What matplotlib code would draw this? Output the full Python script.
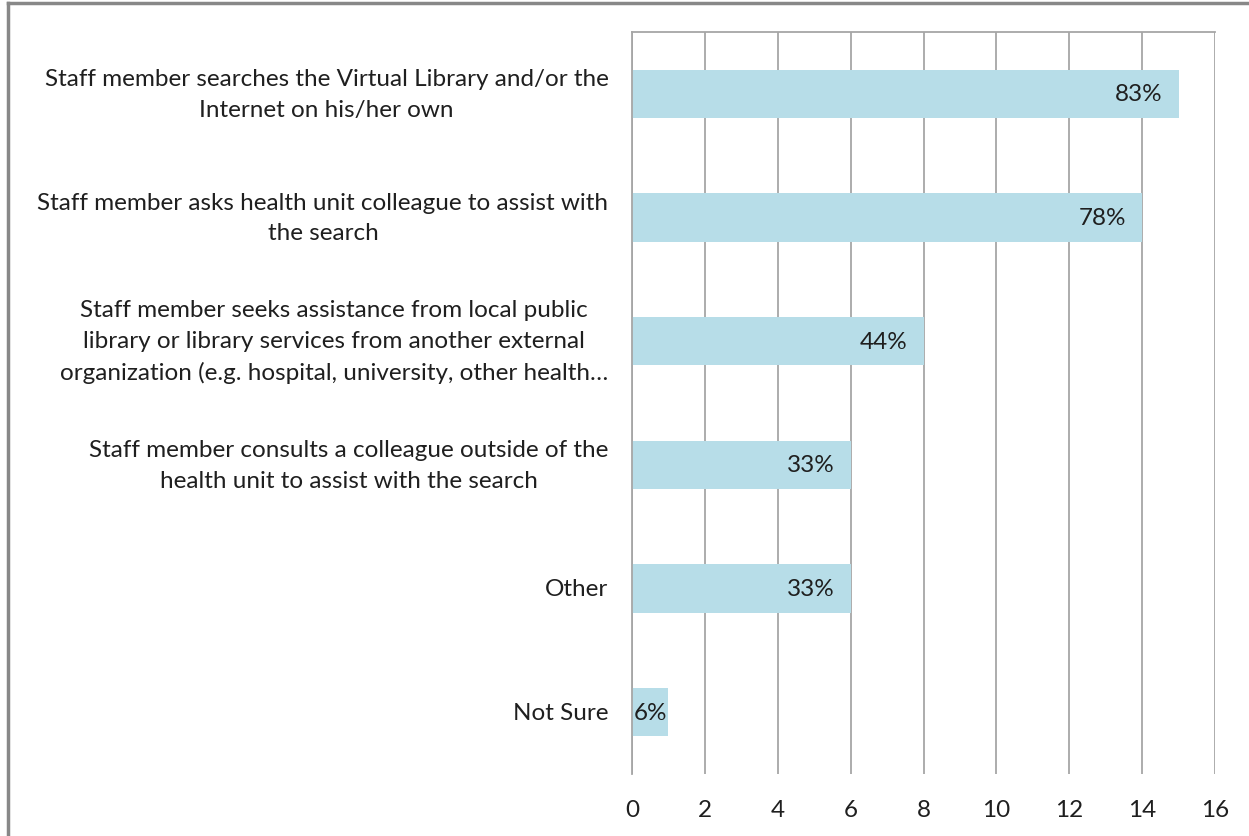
import matplotlib.pyplot as plt
from matplotlib.lines import Line2D

categories = [
    "Staff member searches the Virtual Library and/or the\nInternet on his/her own",
    "Staff member asks health unit colleague to assist with\nthe search",
    "Staff member seeks assistance from local public\nlibrary or library services from another external\norganization (e.g. hospital, university, other health\u2026",
    "Staff member consults a colleague outside of the\nhealth unit to assist with the search",
    "Other",
    "Not Sure",
]
counts = [15, 14, 8, 6, 6, 1]
pct_labels = ["83%", "78%", "44%", "33%", "33%", "6%"]
xticks = [0, 2, 4, 6, 8, 10, 12, 14, 16]

plt.rcParams['font.family'] = ['Lato', 'DejaVu Sans']
text_color = '#1f1f1f'
grid_color = '#a6a6a6'
fs = 17.5

fig = plt.figure(figsize=(12.49, 8.37), dpi=100)
ax = fig.add_axes([632 / 1249, 1 - 775 / 837, (1215 - 632) / 1249, (775 - 33) / 837])

ypos = list(range(len(categories)))
bars = ax.barh(ypos, counts, height=0.39, color='#b7dde8', zorder=2)
ax.set_ylim(len(categories) - 0.5, -0.5)
ax.set_xlim(0, 16)
ax.set_xticks(xticks)
ax.set_xticklabels([str(t) for t in xticks], fontsize=fs, color=text_color)
ax.set_yticks(ypos)
ax.set_yticklabels(categories, fontsize=fs, color=text_color,
                   multialignment='center', linespacing=1.55, va='center')
ax.tick_params(axis='y', length=0, pad=17)
ax.tick_params(axis='x', length=0, pad=18)
ax.grid(axis='x', color=grid_color, linewidth=1.3, zorder=0)

for side in ['right', 'bottom']:
    ax.spines[side].set_visible(False)
for side in ['top', 'left']:
    ax.spines[side].set_color(grid_color)
    ax.spines[side].set_linewidth(1.3)

for bar, lab in zip(bars, pct_labels):
    w = bar.get_width()
    yc = bar.get_y() + bar.get_height() / 2
    if w < 2:
        # too short for inside-end, centre it on the bar
        ax.annotate(lab, (w / 2, yc), ha='center', va='center',
                    fontsize=fs, color=text_color, zorder=3)
    else:
        ax.annotate(lab, (w, yc), xytext=(-11.5, 0), textcoords='offset points',
                    ha='right', va='center', fontsize=fs, color=text_color, zorder=3)

# outer chart border (only top and left visible in the crop)
fig.add_artist(Line2D([8 / 1249, 1], [1 - 4 / 837, 1 - 4 / 837], color='#888888', linewidth=2.5))
fig.add_artist(Line2D([8 / 1249, 8 / 1249], [0, 1 - 4 / 837], color='#888888', linewidth=2.5))

fig.savefig('out.png', dpi=100)
